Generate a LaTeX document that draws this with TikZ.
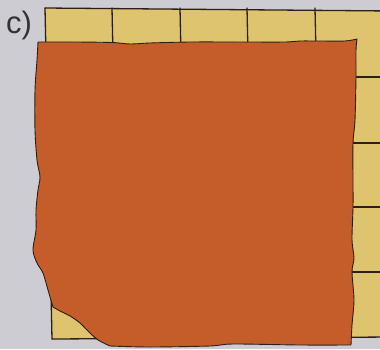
\documentclass[tikz,border=0pt]{standalone}
\usepackage{fontspec}
\setmainfont{Liberation Sans}
\begin{document}
\begin{tikzpicture}[x=1pt,y=-1pt,line join=round,line cap=round]
\definecolor{bg}{HTML}{CECCD3}
\definecolor{tile}{HTML}{DEC46E}
\definecolor{sheet}{HTML}{C45D2A}
\definecolor{ink}{HTML}{2B1F17}
\tikzset{gridline/.style={draw=ink,line width=1.3pt},
 sheetstyle/.style={fill=sheet,draw=ink,line width=0.9pt}}
\useasboundingbox (0,0) rectangle (380,349);
\fill[bg] (0,0) rectangle (380,349);
\begin{scope}
\clip (0,0) rectangle (380,349);
\fill[tile] (45,8) -- (390,11) -- (392,337) -- (52,339) -- cycle;
\foreach \a/\b in {45/52,112/119,180/187,247/254,315/322}
  \draw[gridline] (\a,8) -- (\b,339);
\foreach \l/\y/\z in {45/8/11, 46.5/77/77, 47.9/143/143, 49.2/207/207, 50.6/272/272, 52/339/337}
  \draw[gridline] (\l,\y) -- (392,\z);
\end{scope}
\draw[sheetstyle]
  plot[smooth,tension=0.5] coordinates {(38,42) (75,42) (112,42.5) (130,44) (150,43) (190,42) (240,42) (285,42) (300,41) (320,41) (345,41) (357,39)}
  -- plot[smooth,tension=0.5] coordinates {(357,39) (356,50) (356,77) (355,120) (353,143) (353,180) (353,207) (352,240) (354,258) (352,272) (354,300) (352,325) (351,345)}
  -- plot[smooth,tension=0.5] coordinates {(351,345) (300,345) (233,344) (210,346) (150,347) (110,346)}
  -- plot[smooth,tension=0.5] coordinates {(110,346) (98,340) (90,333) (80,323) (70,316) (60,311) (53,307)}
  -- plot[smooth,tension=0.5] coordinates {(53,307) (48,290) (43,273) (37,263) (33,250) (36,230) (36,210) (38,190) (40,177) (37,160) (35,130) (35,90) (37,60) (38,42)}
  -- cycle;
\node[anchor=base west,inner sep=0pt,text=black!80,font=\fontsize{31}{31}\selectfont] (label) at (6,33) {c)};
\end{tikzpicture}
\end{document}
